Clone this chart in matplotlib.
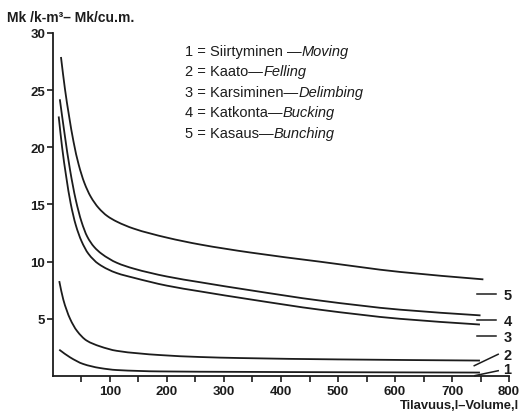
import matplotlib
matplotlib.use('Agg')
import matplotlib.pyplot as plt
from matplotlib.path import Path
from matplotlib.patches import PathPatch
import numpy as np

plt.rcParams['font.family'] = ['Liberation Sans', 'DejaVu Sans']

INK = '#1c1c1c'

# ── Data ──────────────────────────────────────────────────────
x1 = [11, 30, 53, 82, 112, 188, 328, 500, 749]
y1 = [2.3, 1.63, 1.05, 0.7, 0.52, 0.4, 0.36, 0.33, 0.3]

x2 = [11, 18, 30, 42, 59, 82, 112, 188, 258, 328, 500, 749]
y2 = [8.3, 6.7, 5.0, 3.95, 3.1, 2.6, 2.2, 1.83, 1.66, 1.57, 1.45, 1.35]

x3 = [10, 16, 23, 31, 40, 50, 62, 80, 112, 141, 200, 258, 346, 468, 609, 749]
y3 = [22.7, 20.0, 17.5, 15.1, 13.2, 11.8, 10.7, 9.8, 9.0, 8.6, 7.9, 7.4, 6.7, 5.8, 5.0, 4.5]

x4 = [12, 20, 30, 40, 50, 60, 72, 85, 112, 141, 200, 258, 346, 468, 609, 750]
y4 = [24.2, 21.3, 18.0, 15.4, 13.5, 12.2, 11.3, 10.7, 9.9, 9.4, 8.7, 8.2, 7.5, 6.6, 5.8, 5.3]

x5 = [14, 21, 28, 36, 45, 55, 66, 80, 95, 112, 141, 200, 258, 346, 468, 609, 755]
y5 = [27.9, 25.1, 22.8, 20.5, 18.5, 16.9, 15.7, 14.7, 14.0, 13.5, 12.9, 12.1, 11.5,
      10.8, 10.0, 9.1, 8.45]

curves = [(x1, y1), (x2, y2), (x3, y3), (x4, y4), (x5, y5)]

legend_fi = ['1 = Siirtyminen \u2014', '2 = Kaato\u2014', '3 = Karsiminen\u2014',
             '4 = Katkonta\u2014', '5 = Kasaus\u2014']
legend_en = ['Moving', 'Felling', 'Delimbing', 'Bucking', 'Bunching']

# right-hand curve labels and their leader lines
curve_labels = ['1', '2', '3', '4', '5']
leader_x0 = [740, 739, 744, 744, 744]
leader_y0 = [0.03, 0.9, 3.46, 4.86, 7.2]
leader_x1 = [781, 781, 777, 777, 777]
leader_y1 = [0.46, 1.9, 3.46, 4.86, 7.2]
label_y = [0.6, 1.8, 3.4, 4.8, 7.1]

x_ticks = [50, 100, 150, 200, 250, 300, 350, 400, 450, 500, 550, 600, 650, 700, 750, 800]
x_labels = ['', '100', '', '200', '', '300', '', '400', '', '500', '', '600', '', '700', '', '800']
y_ticks = [5, 10, 15, 20, 25, 30]


def smooth_path(xs, ys):
    """Monotone cubic (PCHIP-style) Bezier path through the points."""
    x = np.asarray(xs, float)
    y = np.asarray(ys, float)
    h = np.diff(x)
    d = np.diff(y) / h
    m = np.empty_like(x)
    m[0], m[-1] = d[0], d[-1]
    for k in range(1, len(x) - 1):
        if d[k - 1] * d[k] <= 0:
            m[k] = 0.0
        else:
            w1 = 2 * h[k] + h[k - 1]
            w2 = h[k] + 2 * h[k - 1]
            m[k] = (w1 + w2) / (w1 / d[k - 1] + w2 / d[k])
    verts = [(x[0], y[0])]
    codes = [Path.MOVETO]
    for k in range(len(x) - 1):
        verts += [(x[k] + h[k] / 3, y[k] + m[k] * h[k] / 3),
                  (x[k + 1] - h[k] / 3, y[k + 1] - m[k + 1] * h[k] / 3),
                  (x[k + 1], y[k + 1])]
        codes += [Path.CURVE4] * 3
    return Path(verts, codes)


# ── Figure ─────────────────────────────────────────────────────
fig = plt.figure(figsize=(5.21, 4.14), dpi=100)
ax = fig.add_axes([0.1017, 0.0894, 0.8753, 0.8285])
ax.set_xlim(0, 800)
ax.set_ylim(0, 30)

for xs, ys in curves:
    ax.add_patch(PathPatch(smooth_path(xs, ys), facecolor='none',
                           edgecolor=INK, lw=1.3, capstyle='butt'))

for sp in ['top', 'right']:
    ax.spines[sp].set_visible(False)
for sp in ['left', 'bottom']:
    ax.spines[sp].set_linewidth(1.3)
    ax.spines[sp].set_color(INK)

ax.set_xticks(x_ticks)
ax.set_xticklabels(x_labels)
ax.set_yticks(y_ticks)
ax.tick_params(axis='both', direction='out', length=4.5, width=1.2, color=INK,
               labelsize=9.5, labelcolor=INK)
ax.tick_params(axis='x', pad=2)
ax.tick_params(axis='y', pad=1)
for lbl in ax.get_xticklabels() + ax.get_yticklabels():
    lbl.set_fontweight('bold')

# legend block (Finnish regular + English italic)
ty = [28.1, 26.3, 24.5, 22.7, 20.9]
for fi, en, y in zip(legend_fi, legend_en, ty):
    t = ax.text(232, y, fi, fontsize=10.5, color=INK, va='baseline', ha='left')
    ax.annotate(en, xy=(1, 0), xycoords=t, va='bottom', ha='left',
                fontsize=10.5, color=INK, style='italic')

# curve labels at right end
for lab, a0, b0, a1, b1, ly in zip(curve_labels, leader_x0, leader_y0,
                                   leader_x1, leader_y1, label_y):
    ax.plot([a0, a1], [b0, b1], color=INK, lw=1.1, clip_on=False)
    ax.text(790, ly, lab, fontsize=10.5, fontweight='bold', color=INK,
            ha='left', va='center')

# axis titles
fig.text(0.013, 0.957, 'Mk /k-m\u00b3\u2013 Mk/cu.m.', fontsize=10,
         fontweight='bold', color=INK, ha='left', va='center')
fig.text(0.997, 0.02, 'Tilavuus,l\u2013Volume,l', fontsize=9.4,
         fontweight='bold', color=INK, ha='right', va='center')

fig.savefig('out.png', dpi=100, facecolor='white')
